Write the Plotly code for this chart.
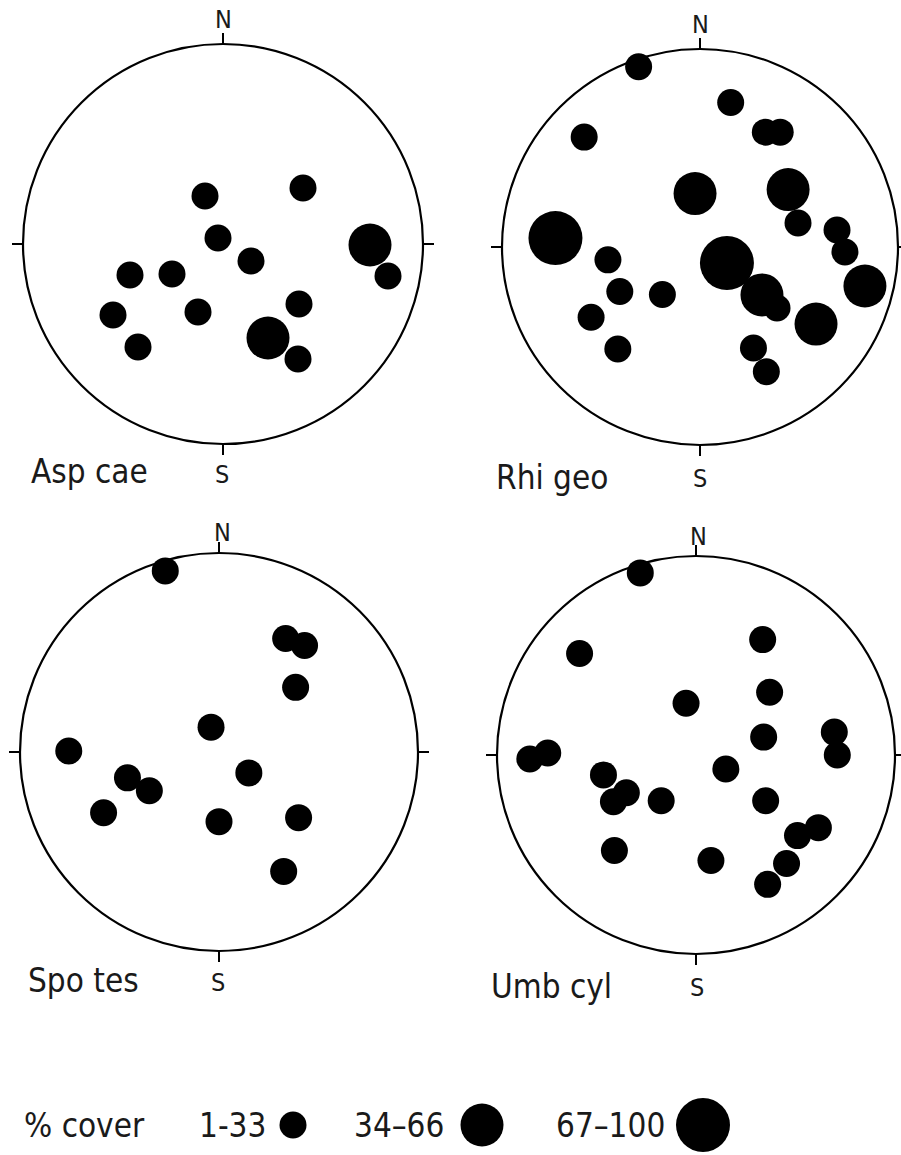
import plotly.graph_objects as go

W, H = 901, 1155

# ---- data: positions in units of net radius (east, north), cover class ----
panel_names = ["Asp cae", "Rhi geo", "Spo tes", "Umb cyl"]
cover_classes = ["1-33", "34-66", "67-100"]

asp_e = [-0.09, 0.40, -0.025, 0.14, 0.735, 0.825, -0.465, -0.255, -0.55, -0.125, 0.38, 0.225, 0.375, -0.425]
asp_n = [0.24, 0.28, 0.03, -0.085, -0.005, -0.16, -0.155, -0.15, -0.355, -0.34, -0.30, -0.47, -0.575, -0.515]
asp_c = ["1-33", "1-33", "1-33", "1-33", "34-66", "1-33", "1-33", "1-33", "1-33", "1-33", "1-33", "34-66", "1-33", "1-33"]

rhi_e = [-0.31, 0.155, -0.585, 0.33, 0.405, -0.025, 0.445, 0.495, 0.692, 0.732, -0.73, -0.465,
         0.136, 0.313, 0.389, 0.833, -0.405, -0.19, -0.55, -0.415, 0.586, 0.27, 0.335]
rhi_n = [0.91, 0.73, 0.555, 0.58, 0.58, 0.27, 0.29, 0.121, 0.086, -0.025, 0.045, -0.065,
         -0.081, -0.242, -0.308, -0.197, -0.225, -0.24, -0.355, -0.515, -0.389, -0.51, -0.63]
rhi_c = ["1-33", "1-33", "1-33", "1-33", "1-33", "34-66", "34-66", "1-33", "1-33", "1-33", "67-100", "1-33",
         "67-100", "34-66", "1-33", "34-66", "1-33", "1-33", "1-33", "1-33", "34-66", "1-33", "1-33"]

spo_e = [-0.27, 0.335, 0.43, 0.385, -0.04, -0.755, -0.46, -0.35, 0.15, -0.58, 0.0, 0.40, 0.325]
spo_n = [0.91, 0.57, 0.535, 0.325, 0.125, 0.005, -0.13, -0.195, -0.105, -0.305, -0.35, -0.33, -0.60]
spo_c = ["1-33"] * 13

umb_e = [-0.28, -0.585, 0.335, 0.37, -0.05, 0.34, 0.695, 0.71, -0.835, -0.745, -0.465, -0.35, -0.415,
         -0.175, 0.15, 0.35, 0.615, 0.51, 0.455, 0.36, -0.41, 0.075]
umb_n = [0.915, 0.51, 0.58, 0.315, 0.26, 0.09, 0.115, 0.0, -0.02, 0.01, -0.10, -0.19, -0.235,
         -0.23, -0.07, -0.23, -0.365, -0.405, -0.545, -0.65, -0.48, -0.53]
umb_c = ["1-33"] * 22

panels_e = [asp_e, rhi_e, spo_e, umb_e]
panels_n = [asp_n, rhi_n, spo_n, umb_n]
panels_c = [asp_c, rhi_c, spo_c, umb_c]

# ---- styling / layout constants (page pixels) ----
marker_px = {"1-33": 27, "34-66": 43, "67-100": 54}
geom = [(223, 244, 200), (700, 247, 198), (219, 752, 199), (696, 755, 199)]
n_pos = [(223, 19), (700, 24), (222, 532), (698, 536)]
s_pos = [(222, 474), (700, 478), (218, 982), (697, 987)]
label_left = [(30, 471), (495, 477), (27, 981), (490, 986)]
FONT = "DejaVu Sans Condensed, Liberation Sans Narrow, DejaVu Sans, sans-serif"
TXT = "#1a1a1a"


def px(x):
    return x / W


def py(y):
    return 1 - y / H


fig = go.Figure()
layout = dict(width=W, height=H, margin=dict(l=0, r=0, t=0, b=0), autosize=False,
              paper_bgcolor="white", plot_bgcolor="white", showlegend=False)
shapes, annots = [], []


def text_ann(x, y, s, size, anchor="center"):
    return dict(xref="paper", yref="paper", x=px(x), y=py(y), text=s, showarrow=False,
                font=dict(family=FONT, size=size, color=TXT), xanchor=anchor, yanchor="middle",
                borderpad=0)


for i in range(4):
    cx, cy, r = geom[i]
    pad = 1.1
    x0, x1 = max(0, cx - pad * r), min(W, cx + pad * r)
    y0, y1 = max(0, cy - pad * r), min(H, cy + pad * r)
    ax = "" if i == 0 else str(i + 1)
    layout["xaxis" + ax] = dict(domain=[px(x0), px(x1)], range=[(x0 - cx) / r, (x1 - cx) / r],
                                visible=False, fixedrange=True, anchor="y" + ax)
    layout["yaxis" + ax] = dict(domain=[py(y1), py(y0)], range=[(cy - y1) / r, (cy - y0) / r],
                                visible=False, fixedrange=True, anchor="x" + ax)
    xr, yr = "x" + ax, "y" + ax
    shapes.append(dict(type="circle", xref=xr, yref=yr, x0=-1, x1=1, y0=-1, y1=1,
                       line=dict(color="black", width=2.2), layer="below"))
    t = 11 / r
    for (a, b, c, d) in [(0, 1, 0, 1 + t), (0, -1, 0, -1 - t), (-1, 0, -1 - t, 0), (1, 0, 1 + t, 0)]:
        shapes.append(dict(type="line", xref=xr, yref=yr, x0=a, y0=b, x1=c, y1=d,
                           line=dict(color="black", width=2)))
    annots.append(text_ann(*n_pos[i], "N", 25))
    annots.append(text_ann(*s_pos[i], "S", 25))
    annots.append(text_ann(*label_left[i], panel_names[i], 33, "left"))
    fig.add_trace(go.Scatter(x=panels_e[i], y=panels_n[i], mode="markers", xaxis=xr, yaxis=yr,
                             marker=dict(color="black", opacity=1,
                                         size=[marker_px[c] for c in panels_c[i]],
                                         line=dict(width=0)),
                             opacity=1, cliponaxis=False, hoverinfo="skip"))

# ---- legend (custom, drawn in a pixel-scaled strip) ----
leg_dot_x = [293, 482, 703]
leg_text_x = [198, 353, 555]
leg_y = 1125
layout["xaxis5"] = dict(domain=[0, 1], range=[0, W], visible=False, anchor="y5", fixedrange=True)
layout["yaxis5"] = dict(domain=[0, 70 / H], range=[H, H - 70], visible=False, anchor="x5",
                        fixedrange=True)
fig.add_trace(go.Scatter(x=leg_dot_x, y=[leg_y] * 3, mode="markers", xaxis="x5", yaxis="y5",
                         marker=dict(color="black", opacity=1,
                                     size=[marker_px[c] for c in cover_classes], line=dict(width=0)),
                         opacity=1, cliponaxis=False, hoverinfo="skip"))
annots.append(text_ann(23, leg_y, "% cover", 33, "left"))
for tx, lab in zip(leg_text_x, cover_classes):
    annots.append(text_ann(tx, leg_y, lab if lab == "1-33" else lab.replace("-", "–"), 33, "left"))

layout["shapes"] = shapes
layout["annotations"] = annots
fig.update_layout(**layout)
fig.write_html("out.html", config={"displayModeBar": False, "staticPlot": True},
               post_script="document.body.style.margin='0';document.body.style.padding='0';")
